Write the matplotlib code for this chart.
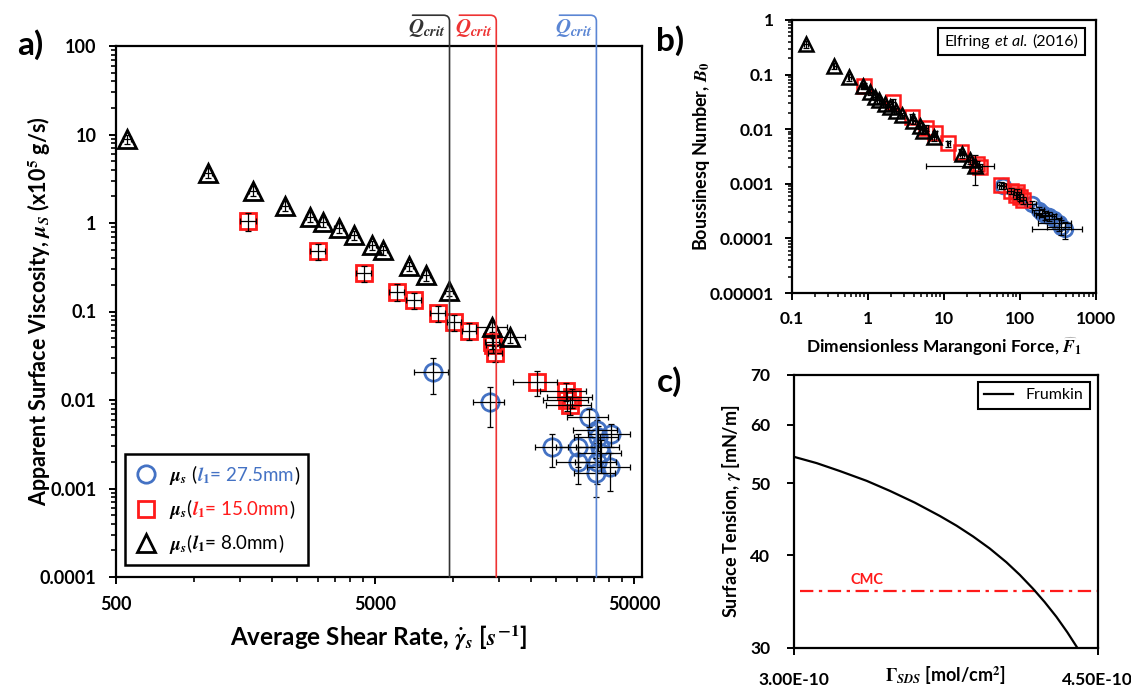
import numpy as np
import matplotlib
matplotlib.use("Agg")
import matplotlib.pyplot as plt
from matplotlib.ticker import FixedLocator, FuncFormatter, LogLocator, NullLocator, NullFormatter
from matplotlib.offsetbox import TextArea, HPacker, AnnotationBbox

plt.rcParams['font.family'] = ['Lato', 'DejaVu Sans']
plt.rcParams['font.weight'] = 'bold'
plt.rcParams['axes.labelweight'] = 'bold'
plt.rcParams['mathtext.fontset'] = 'stix'

# ---------------- Panel a data ----------------
tri_a_x = [553, 1134, 1686, 2244, 2804, 3162, 3618, 4144, 4890, 5350, 6790, 7880, 9640, 14200, 16550]
tri_a_y = [8.83, 3.70, 2.32, 1.57, 1.18, 1.03, 0.885, 0.731, 0.564, 0.495, 0.327, 0.258, 0.171, 0.0673, 0.0511]
tri_a_yerr = [1.0, 0.45, 0.3, 0.2, 0.15, 0.13, 0.11, 0.09, 0.07, 0.06, 0.04, 0.035, 0.022, 0.009, 0.007]
tri_a_xerr = [20, 40, 60, 80, 100, 110, 130, 150, 170, 190, 240, 280, 340, 1900, 2400]

sq_a_x = [1622, 3017, 4518, 6077, 7050, 8730, 10100, 11550, 14200, 14340, 14570, 21130, 27270, 27680, 28400, 28770]
sq_a_y = [1.06, 0.486, 0.270, 0.167, 0.135, 0.0955, 0.0755, 0.0607, 0.0456, 0.0418, 0.0342, 0.0161, 0.01274, 0.0100, 0.00879, 0.0107]
sq_a_yerr = [0.25, 0.1, 0.055, 0.035, 0.028, 0.02, 0.016, 0.013, 0.008, 0.008, 0.007, 0.005, 0.003, 0.0025, 0.002, 0.0025]
sq_a_xerr = [110, 200, 300, 400, 450, 550, 650, 750, 900, 900, 950, 4000, 5500, 5500, 5600, 5700]

circ_a_x = [8350, 13890, 33520, 24230, 30480, 30480, 35970, 36300, 40830, 36870, 37460, 35970, 40570, 35800]
circ_a_y = [0.0206, 0.00942, 0.00648, 0.00297, 0.00293, 0.00201, 0.00458, 0.00385, 0.00413, 0.00297, 0.0025, 0.00201, 0.00173, 0.00151]
circ_a_yerr = [0.009, 0.0045, 0.0015, 0.0012, 0.0012, 0.0009, 0.0013, 0.0012, 0.0012, 0.0012, 0.0010, 0.0009, 0.0008, 0.0007]
circ_a_xerr = [1250, 1900, 6000, 3500, 5500, 5500, 7000, 7000, 7500, 7000, 7000, 6500, 7500, 6500]

qcrit_vals = [9700, 14700, 35800]

x_major_a = [500, 5000, 50000]
x_minor_a = [1000, 1500, 2000, 2500, 3000, 3500, 4000, 4500,
             10000, 15000, 20000, 25000, 30000, 35000, 40000, 45000]
y_major_a = [1e-4, 1e-3, 1e-2, 1e-1, 1, 10, 100]

# ---------------- Panel b data ----------------
tri_b_x = [0.153, 0.364, 0.573, 0.859, 1.07, 1.25, 1.42, 1.69, 1.97, 2.36, 2.80, 3.98, 4.88, 5.39, 7.45, 17.3, 22.2, 25.8]
tri_b_y = [0.359, 0.146, 0.0891, 0.0626, 0.0486, 0.0394, 0.0343, 0.029, 0.0258, 0.0218, 0.0182, 0.0143, 0.01145, 0.0094, 0.0071, 0.00352, 0.00273, 0.00215]
tri_b_yerr = [0.05, 0.02, 0.012, 0.008, 0.006, 0.005, 0.004, 0.004, 0.003, 0.003, 0.002, 0.002, 0.0015, 0.0012, 0.001, 0.0005, 0.0004, 0.0012]
tri_b_xerr = [0.01, 0.02, 0.03, 0.05, 0.06, 0.07, 0.08, 0.1, 0.1, 0.12, 0.15, 0.2, 0.25, 0.3, 0.4, 1.0, 1.5, 20]

sq_b_x = [0.893, 2.17, 3.79, 5.85, 7.69, 11.5, 16.7, 27.2, 30.0, 56.2, 76.2, 89.4, 92.9, 101, 109]
sq_b_y = [0.0618, 0.031, 0.017, 0.01066, 0.0084, 0.0055, 0.00387, 0.00231, 0.002, 0.00095, 0.00075, 0.00062, 0.000716, 0.000565, 0.000505]
sq_b_yerr = [0.008, 0.004, 0.002, 0.0014, 0.001, 0.0007, 0.0005, 0.0003, 0.0003, 0.00015, 0.0001, 0.0001, 0.0001, 0.00008, 0.00007]
sq_b_xerr = [0.05, 0.1, 0.2, 0.3, 0.4, 0.6, 0.9, 1.5, 1.6, 6, 8, 9, 9, 10, 11]

circ_b_x = [59.7, 144, 176, 194.6, 215, 238, 277, 322, 346, 395]
circ_b_y = [0.000912, 0.000427, 0.000331, 0.000296, 0.000268, 0.000257, 0.000224, 0.000189, 0.000164, 0.000147]
circ_b_yerr = [0.00012, 0.00006, 0.00005, 0.00005, 0.00005, 0.00005, 0.00006, 0.00005, 0.00005, 0.00005]
circ_b_xerr = [6, 20, 30, 40, 50, 60, 70, 150, 120, 250]

x_major_b = [0.1, 1, 10, 100, 1000]
y_major_b = [1e-5, 1e-4, 1e-3, 1e-2, 1e-1, 1]

# ---------------- Panel c data ----------------
gamma_sds = [3.000e-10, 3.112e-10, 3.227e-10, 3.359e-10, 3.474e-10, 3.597e-10, 3.720e-10, 3.803e-10,
             3.885e-10, 3.967e-10, 4.049e-10, 4.115e-10, 4.181e-10, 4.238e-10, 4.296e-10, 4.350e-10, 4.400e-10]
tension = [54.3, 53.25, 51.95, 50.4, 48.85, 47.1, 45.2, 43.85,
           42.4, 40.85, 39.15, 37.65, 36.05, 34.6, 33.05, 31.5, 30.0]
cmc_tension = 35.8
c_yticks = [30, 40, 50, 60, 70]
c_xticks = [3.0e-10, 4.5e-10]

BLUE = '#4472C4'
RED = '#FF1A1A'
Q_COLORS = ['#333333', '#EE3333', '#5B86D4']


def pos_fmt(v, pos):
    return np.format_float_positional(float(f'{v:.6g}'), trim='-')


fig = plt.figure(figsize=(11.31, 6.89), dpi=100)
axA = fig.add_axes([116 / 1131, 1 - 577 / 689, 526 / 1131, 531 / 689])
axB = fig.add_axes([791.7 / 1131, 1 - 293 / 689, 304.3 / 1131, 273 / 689])
axC = fig.add_axes([794 / 1131, 1 - 648 / 689, 303.7 / 1131, 273 / 689])

for ax in (axA, axB, axC):
    for s in ax.spines.values():
        s.set_linewidth(1.6)
        s.set_color('black')

ekw = dict(fmt='none', ecolor='black', elinewidth=0.9, capsize=2.2, capthick=0.9, zorder=4)

# ---------------- Panel a ----------------
axA.set_xscale('log')
axA.set_yscale('log')
hC, = axA.plot(circ_a_x, circ_a_y, ls='none', marker='o', ms=12.5, mfc='none', mec=BLUE, mew=2.0, zorder=3)
axA.errorbar(circ_a_x, circ_a_y, xerr=circ_a_xerr, yerr=circ_a_yerr, **ekw)
hS, = axA.plot(sq_a_x, sq_a_y, ls='none', marker='s', ms=11.5, mfc='none', mec=RED, mew=2.0, zorder=3)
axA.errorbar(sq_a_x, sq_a_y, xerr=sq_a_xerr, yerr=sq_a_yerr, **ekw)
hT, = axA.plot(tri_a_x, tri_a_y, ls='none', marker='^', ms=12.5, mfc='none', mec='black', mew=2.0, zorder=3)
axA.errorbar(tri_a_x, tri_a_y, xerr=tri_a_xerr, yerr=tri_a_yerr, **ekw)

axA.set_xlim(500, 53700)
axA.set_ylim(1e-4, 100)
axA.xaxis.set_major_locator(FixedLocator(x_major_a))
axA.xaxis.set_minor_locator(FixedLocator(x_minor_a))
axA.xaxis.set_major_formatter(FuncFormatter(pos_fmt))
axA.xaxis.set_minor_formatter(NullFormatter())
axA.yaxis.set_major_locator(FixedLocator(y_major_a))
axA.yaxis.set_minor_locator(LogLocator(base=10, subs=range(2, 10)))
axA.yaxis.set_major_formatter(FuncFormatter(pos_fmt))
axA.yaxis.set_minor_formatter(NullFormatter())
axA.tick_params(which='major', direction='out', length=5, width=1.4, labelsize=13, pad=9)
axA.tick_params(which='minor', direction='out', length=3.5, width=1.2)
axA.tick_params(top=False, right=False, which='both')
axA.set_xlabel(r'Average Shear Rate, $\dot{\gamma}_s$ [$s^{-1}$]', fontsize=17.5)
axA.set_ylabel(r'Apparent Surface Viscosity, $\mu_S$ (x10$^5$ g/s)', fontsize=15.5)
axA.xaxis.set_label_coords(0.5, -0.113)
axA.xaxis.label.set_va('center')
axA.yaxis.set_label_coords(-0.145, 0.5)
axA.yaxis.label.set_va('center')

# Q_crit brackets
trans = axA.get_xaxis_transform()
for qc, col in zip(qcrit_vals, Q_COLORS):
    axA.annotate('', xy=(qc, 0), xycoords=trans, xytext=(qc * 0.72, 1.058), textcoords=trans,
                 arrowprops=dict(arrowstyle='-', color=col, lw=1.2, shrinkA=0, shrinkB=0,
                                 connectionstyle='angle,angleA=0,angleB=90,rad=6'),
                 annotation_clip=False, zorder=5)
    axA.annotate(r'$Q_{crit}$', xy=(qc, 1.034), xycoords=trans, xytext=(-3, 0),
                 textcoords='offset points', ha='right', va='center', color=col,
                 fontsize=15, annotation_clip=False)

# legend with multi-coloured labels
lab_parts = [
    [(r'$\mu_s$ (', 'black'), (r'$l_1$= 27.5mm', BLUE), (')', 'black')],
    [(r'$\mu_s$(', 'black'), (r'$l_1$= 15.0mm', RED), (')', 'black')],
    [(r'$\mu_s$(', 'black'), (r'$l_1$= 8.0mm', 'black'), (')', 'black')],
]
full_labels = [''.join(p[0] for p in parts) for parts in lab_parts]
legA = axA.legend([hC, hS, hT], full_labels, loc='lower left', bbox_to_anchor=(0.018, 0.0226),
                  borderaxespad=0, frameon=True, fancybox=False, framealpha=1, edgecolor='black',
                  prop={'family': ['Lato', 'DejaVu Sans'], 'weight': 'normal', 'size': 13.5},
                  handlelength=1.2, handletextpad=0.6, labelspacing=0.55, borderpad=0.5)
legA.get_frame().set_linewidth(1.8)
for txt, parts in zip(legA.get_texts(), lab_parts):
    txt.set_alpha(0)
    areas = [TextArea(s, textprops=dict(color=c, fontsize=13.5, fontweight='normal',
                                        family=['Lato', 'DejaVu Sans'])) for s, c in parts]
    pack = HPacker(children=areas, align='baseline', pad=0, sep=0)
    ab = AnnotationBbox(pack, (0, 0), xycoords=txt, box_alignment=(0, 0), frameon=False, pad=0,
                        annotation_clip=False, zorder=10)
    axA.add_artist(ab)

# ---------------- Panel b ----------------
axB.set_xscale('log')
axB.set_yscale('log')
axB.plot(circ_b_x, circ_b_y, ls='none', marker='o', ms=10.5, mfc='none', mec=BLUE, mew=2.0, zorder=3)
axB.errorbar(circ_b_x, circ_b_y, xerr=circ_b_xerr, yerr=circ_b_yerr, **ekw)
axB.plot(sq_b_x, sq_b_y, ls='none', marker='s', ms=10, mfc='none', mec=RED, mew=1.8, zorder=3)
axB.errorbar(sq_b_x, sq_b_y, xerr=sq_b_xerr, yerr=sq_b_yerr, **ekw)
axB.plot(tri_b_x, tri_b_y, ls='none', marker='^', ms=10.5, mfc='none', mec='black', mew=1.8, zorder=3)
axB.errorbar(tri_b_x, tri_b_y, xerr=tri_b_xerr, yerr=tri_b_yerr, **ekw)
axB.set_xlim(0.1, 1000)
axB.set_ylim(1e-5, 1)
axB.xaxis.set_major_locator(FixedLocator(x_major_b))
axB.yaxis.set_major_locator(FixedLocator(y_major_b))
for axis in (axB.xaxis, axB.yaxis):
    axis.set_minor_locator(LogLocator(base=10, subs=range(2, 10), numticks=12))
    axis.set_major_formatter(FuncFormatter(pos_fmt))
    axis.set_minor_formatter(NullFormatter())
axB.tick_params(which='major', direction='out', length=5, width=1.4, labelsize=12.5, pad=8)
axB.tick_params(which='minor', direction='out', length=3, width=1.1)
axB.set_xlabel(r'Dimensionless Marangoni Force, $\widehat{F}_1$', fontsize=12.5)
axB.set_ylabel(r'Boussinesq Number, $B_0$', fontsize=13)
axB.xaxis.set_label_coords(0.5, -0.198)
axB.xaxis.label.set_va('center')
axB.yaxis.set_label_coords(-0.296, 0.5)
axB.yaxis.label.set_va('center')

elf = HPacker(children=[
    TextArea('Elfring', textprops=dict(fontsize=11.5, fontweight='normal')),
    TextArea('et al.', textprops=dict(fontsize=11.5, fontweight='normal', fontstyle='italic')),
    TextArea('(2016)', textprops=dict(fontsize=11.5, fontweight='normal')),
], align='baseline', pad=0, sep=3.5)
abE = AnnotationBbox(elf, (0.722, 0.921), xycoords=axB.transAxes, box_alignment=(0.5, 0.5),
                     frameon=True, pad=0.45,
                     bboxprops=dict(boxstyle='square,pad=0.45', edgecolor='black', lw=1.5, facecolor='white'))
axB.add_artist(abE)

# ---------------- Panel c ----------------
axC.set_yscale('log')
axC.plot(gamma_sds, tension, color='black', lw=1.6, label='Frumkin', zorder=3)
axC.hlines(cmc_tension, 3.03e-10, 4.5e-10, colors=RED, lw=1.6, linestyles=(0, (6, 2.5, 1.5, 2.5)), zorder=2)
axC.text(3.36e-10, 37.1, 'CMC', color=RED, fontsize=10.5, fontweight='bold', ha='center', va='center')
axC.set_xlim(3.0e-10, 4.5e-10)
axC.set_ylim(30, 70)
axC.yaxis.set_major_locator(FixedLocator(c_yticks))
axC.yaxis.set_minor_locator(NullLocator())
axC.yaxis.set_major_formatter(FuncFormatter(lambda v, p: f'{v:.0f}'))
axC.xaxis.set_major_locator(FixedLocator(c_xticks))
axC.xaxis.set_major_formatter(FuncFormatter(lambda v, p: f'{v:.2E}'))
axC.tick_params(which='major', direction='out', length=5, width=1.4, labelsize=12.5, pad=12)
axC.set_ylabel(r'Surface Tension, $\gamma$ [mN/m]', fontsize=13)
axC.set_xlabel(r'$\it{\Gamma}_{SDS}$ [mol/cm$^2$]', fontsize=13)
axC.xaxis.set_label_coords(0.5, -0.10)
axC.xaxis.label.set_va('center')
axC.yaxis.set_label_coords(-0.205, 0.5)
axC.yaxis.label.set_va('center')
legC = axC.legend(loc='upper right', bbox_to_anchor=(0.975, 0.975), borderaxespad=0, fancybox=False,
                  framealpha=1, edgecolor='black', handlelength=1.8,
                  prop={'family': ['Lato', 'DejaVu Sans'], 'weight': 'normal', 'size': 11.5})
legC.get_frame().set_linewidth(1.5)

# panel letters
fig.text(30 / 1131, 1 - 45 / 689, 'a)', fontsize=24, fontweight='bold', ha='center', va='center')
fig.text(670 / 1131, 1 - 41 / 689, 'b)', fontsize=24, fontweight='bold', ha='center', va='center')
fig.text(670 / 1131, 1 - 382 / 689, 'c)', fontsize=24, fontweight='bold', ha='center', va='center')

fig.savefig('out.png', dpi=100)
